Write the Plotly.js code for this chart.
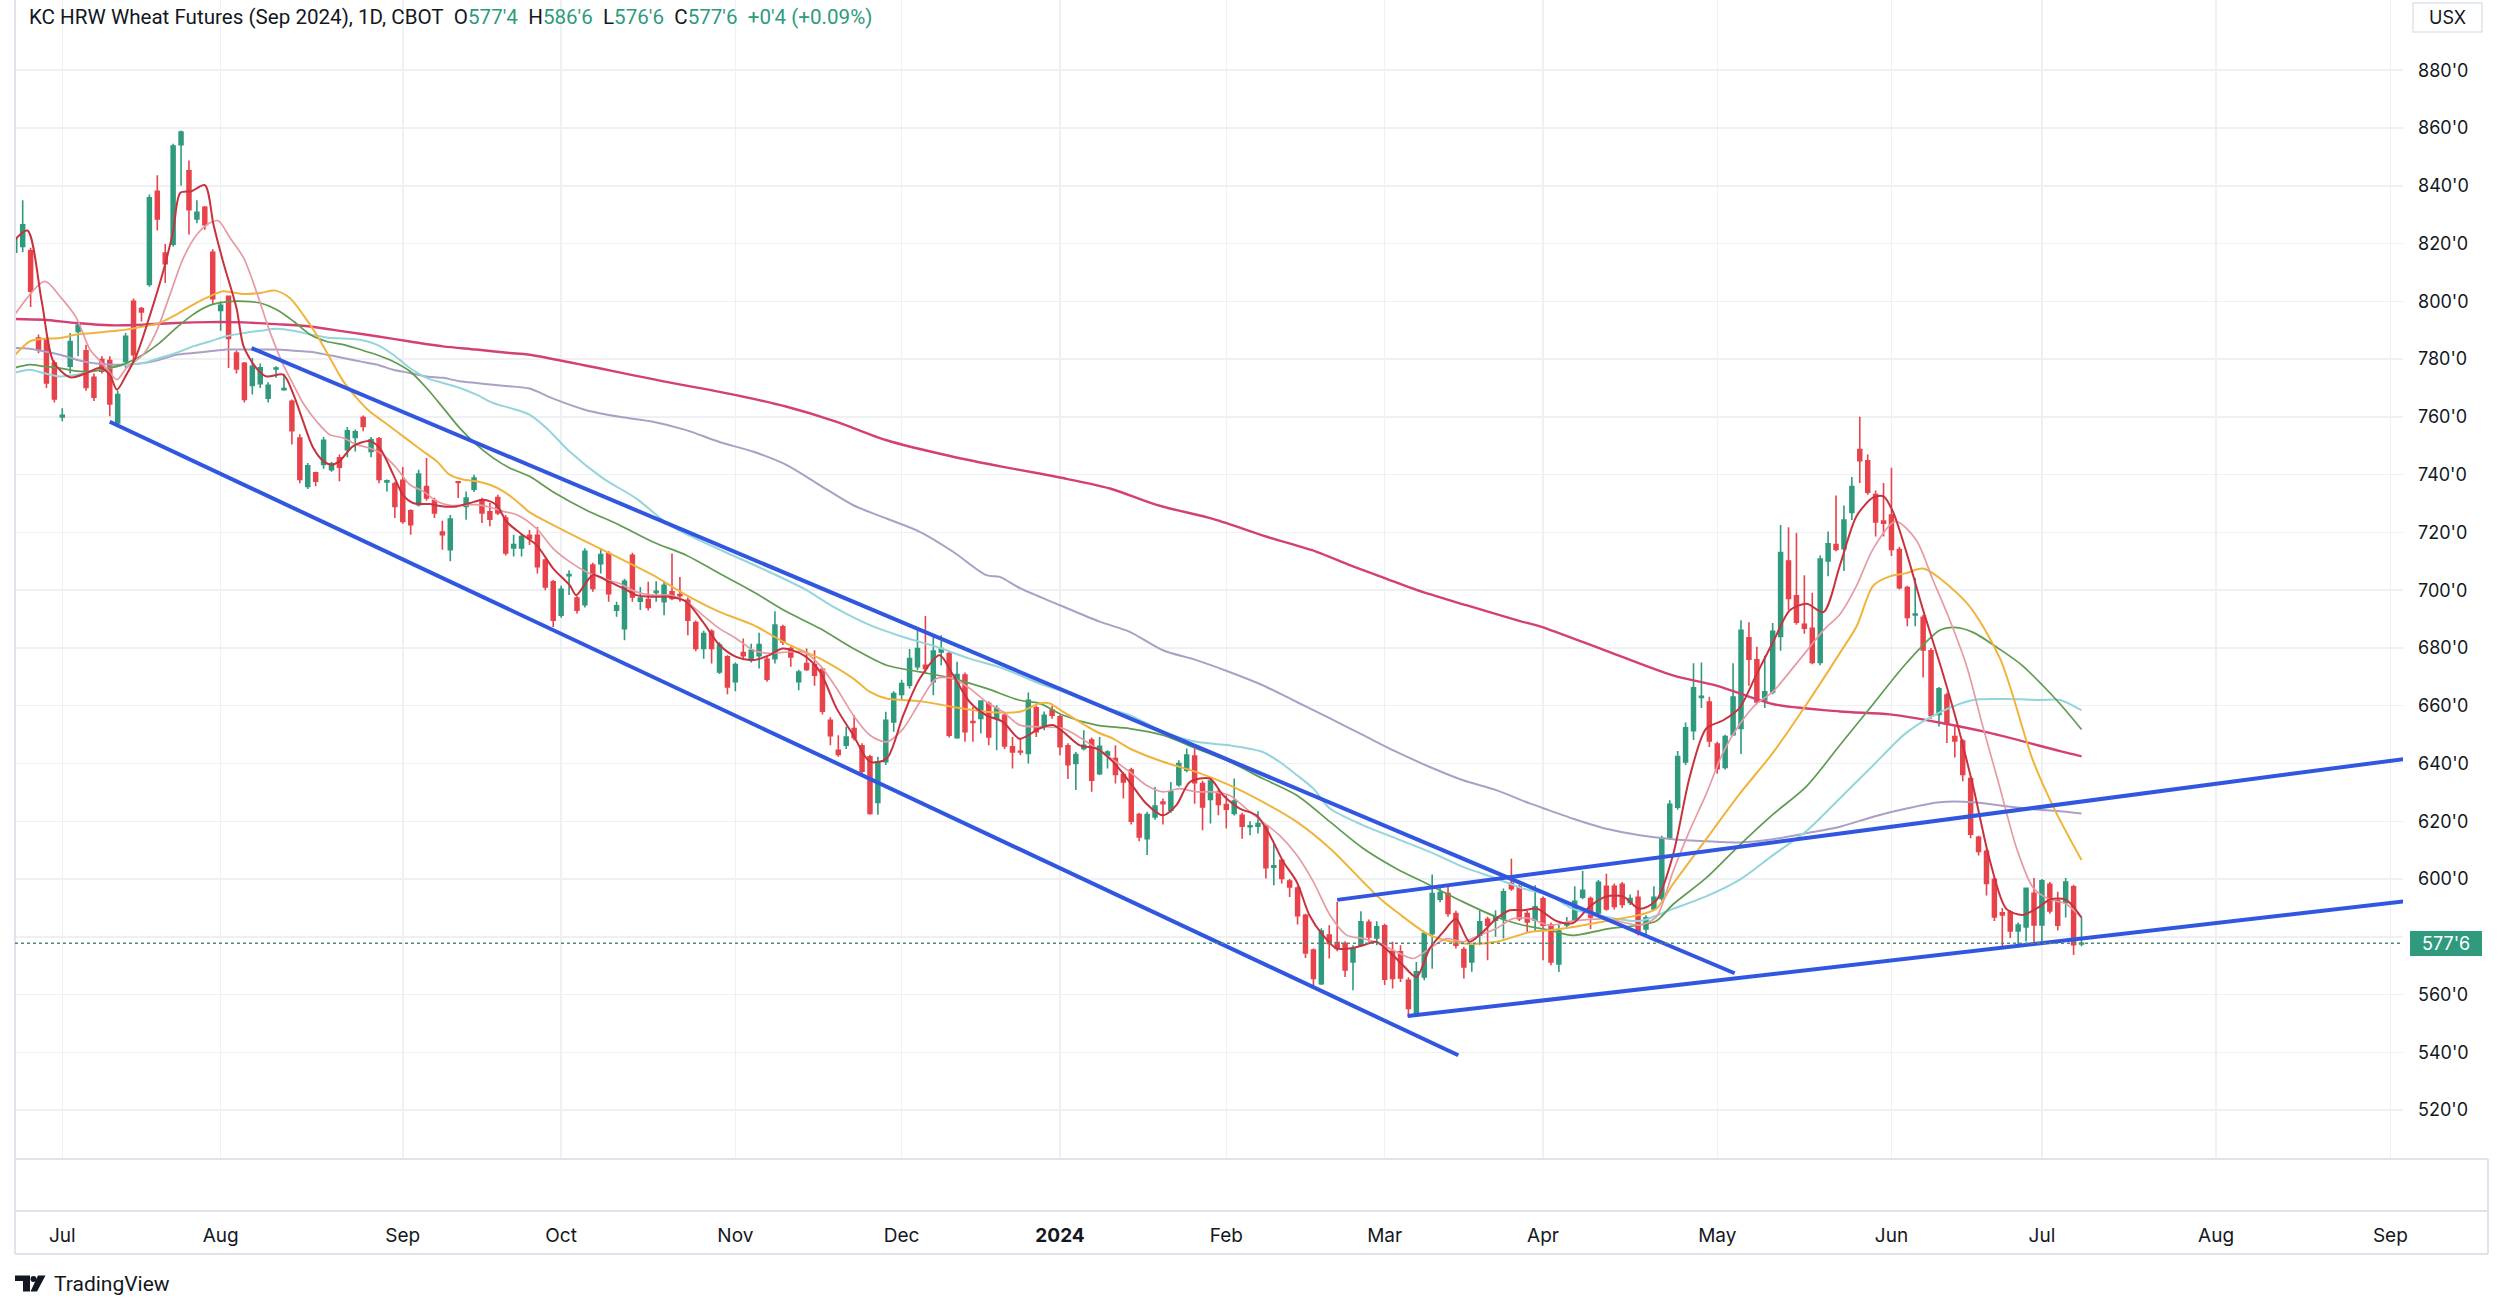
<!DOCTYPE html>
<html><head><meta charset="utf-8">
<script src="https://cdn.plot.ly/plotly-3.0.1.min.js"></script>
<style>html,body{margin:0;padding:0;background:#fff}</style>
</head><body><div id="chart" style="width:2500px;height:1310px"></div>
<script>
// ---------- calendar (trading days, CBOT) ----------
const holidays = ['2023-07-04','2023-09-04','2023-11-23','2023-12-25','2024-01-01','2024-01-15',
  '2024-02-19','2024-03-29','2024-05-27','2024-06-19','2024-07-04','2024-09-02'];
const firstCandleDate = '2023-06-23';
const originDate = '2023-07-03';
const tickMonths = ['2023-07','2023-08','2023-09','2023-10','2023-11','2023-12','2024-01','2024-02',
  '2024-03','2024-04','2024-05','2024-06','2024-07','2024-08','2024-09'];
const monthNames = ['Jan','Feb','Mar','Apr','May','Jun','Jul','Aug','Sep','Oct','Nov','Dec'];

// ---------- OHLC (Jun 23 2023 .. Jul 9 2024) ----------
const open = [817,819,817.5,787.3,786.7,778.6,
 760,777.5,789.6,782.9,773.7,779.8,779.5,757.9,779.2,800,
 797.5,805.8,838.1,816.7,819.8,854.2,845.2,828.5,832.5,817,
 796.8,801.7,782.1,778.5,770.9,771.5,766.5,776.6,769.4,765.4,
 752.7,735.9,740.6,743.5,741.7,745.8,748.6,752.9,759.8,748,
 752.4,737.5,736.8,738,727.5,729.6,735.9,731,720.1,714,
 737.5,729,735,731.3,727.1,732.1,725,714.6,714.6,719,
 719,710.4,702.9,691.3,705,697.3,695,708.7,709.2,712.7,
 693.1,686.7,712.1,696.2,696.8,699.2,696,699.4,698.5,696.5,
 688.8,679.8,685.8,671.7,676.9,668.3,678.4,675.8,677.3,676.1,
 676.3,687.3,679.8,668.3,674.6,674.3,672.6,655,644.6,646.3,
 652.1,646.1,642.3,626.5,640.6,654.4,663.9,667.1,673.5,674,
 668.3,678.6,678.1,648.9,670.6,654.5,655.6,660.8,655.6,656.7,
 645.8,644.2,643.5,659.3,653,658.5,656.2,646.1,640,645.2,
 648.1,636.5,642.9,641.7,636.2,637.7,622.3,614,621.5,626.7,
 623.8,632.7,637.7,642.6,633.1,627.6,630,625.8,622.7,622.1,
 618.1,618.3,618.3,604.1,606.5,599.3,596.9,587.5,575.4,563.8,
 580.6,578,577.7,571.3,577.1,585,579.6,583.8,575,574.8,
 565,552.9,566.1,581.1,593,595,588.1,575.6,571.3,580.6,
 586.1,585.8,586.3,598.5,597.3,588.1,585.8,593.2,584.1,570.6,
 584.1,585.8,593.7,593.3,588.3,597.5,597.5,598.2,591.9,593.7,
 582.7,589.7,593.3,614.5,624.9,640.5,651.4,662.9,661.3,646.7,
 638.6,650,652.1,683.5,675.9,662,664.8,684,710.1,698.1,
 688.2,686.8,675,710.1,715.8,714.4,726.9,748.7,744.8,733.1,
 723.9,726,714.1,700.9,691.4,690.6,679,657,663.7,649.3,
 647.8,634.8,614.5,609.6,599.9,588.3,588.6,582,583.4,595.1,
 584.1,598.2,592.6,591.8,597.3,577.5];
const high = [824,835,818.5,788.5,787.5,779.5,
 763,789,793,785,775,781,781,769,789,801,
 798,837,843.6,819.8,854.5,859.1,848.7,835,833,818,
 800,802,783,779,780.4,778.5,772,777.5,774.8,766,
 754,744,741,753,744.5,747,756.5,755.6,760.5,753,
 753,738.3,737.5,742.6,728,741.7,745.8,732,724,726,
 737.7,734.2,740,732,730.2,733,726,719.2,719.5,720.8,
 721.9,711,703.5,701.5,706.9,698,714.5,709.5,714.4,713.5,
 696,704,713,701.1,702.9,703.1,703,712.7,704.6,697.5,
 689.5,686,686.5,682,677.5,675,683.3,681.5,685.3,677,
 692.7,688,680.5,672.5,679.8,679.2,673,656,649.8,652.7,
 656.7,647,643,642.3,657.9,665,669,679.6,686.1,691.1,
 683.9,684.4,679,675.2,671.5,659.6,661.9,661.5,660.2,657.5,
 649.2,648.6,664.6,660,658,660,657,647,644,651.5,
 649,649.2,644.6,646.3,637,638.5,623,623.3,631.9,627.9,
 633.6,641.1,645.2,645.2,634,634.5,631,629,634.8,623,
 620,623.5,619,612.3,607,600,597.5,588,576,583,
 584,592.1,578.5,577.1,588.9,586,585.4,584.5,578.3,577.1,
 566,571.3,581.7,601.6,597.9,597.6,589,576.5,578,589.2,
 587,589.2,596.7,607,598,589,597.9,594,585,584.1,
 586.9,597.5,602.8,594,599.7,601.8,598.5,599,594.7,596.1,
 587.5,597.5,615,627.3,644.3,654.2,674.7,675,663.1,647.5,
 650,674.7,689.6,688.9,680.4,677.3,688.6,722.6,721.8,719.8,
 705.2,699.1,712,720.3,732.8,729.3,739.2,760,747,734.5,
 737.1,742.4,715,701.5,704.2,691.5,680,666.5,664.5,652.8,
 648.5,635.5,615,610.3,600.5,590,589.3,585,597.1,600.4,
 600,599,595.6,600.4,598,586.75];
const low = [813,817,798,782,770,765,
 758.5,775,781,769,765.5,775,760.2,757,777,779,
 793,805,824.5,806.3,819,840,823.1,827,824.8,799,
 789.8,776.9,775,765,767.7,770,765,773.5,769,750.4,
 737,735,736,742,741,737.7,746,748,755,746,
 737,734.2,725,723,719.2,729,731,725,714,710,
 731.9,724.4,734,723.3,722.1,726,712,711.7,711.7,715.6,
 705.8,700,687.3,690.5,698.3,691.9,694,699.5,705.8,696,
 690.8,682.7,696,693.1,693,696,691.3,696.5,696,684.4,
 678.9,676.3,674.6,671,664,665,676.3,675,672.9,668.3,
 674.6,681,673.5,665.4,672,666.9,657,646.3,642.3,645,
 648,636.5,622.3,622.3,639.5,651,662,666,672.3,671.7,
 663.6,674,649,648.6,647.5,647.5,650.4,646.3,644.6,645,
 638.3,642.9,640,649.2,651.5,655.5,642.9,634.6,630.8,644.5,
 630.2,636,638.3,633.1,627.9,618.9,613.1,608.3,620.5,618.9,
 623,632,637,626.1,616.9,619.2,622.1,617.5,622,614,
 615.2,615.8,600.2,597.9,598.5,593.8,584.3,572.7,562.1,563.3,
 572.5,575,566.1,561.5,576.5,578.3,577.1,563.3,562.1,564.4,
 552.3,552.3,565,569,592,587,576,565.6,567.9,577.1,
 571.9,580,579.4,596,585.5,581.7,581.7,571.9,570.2,567.8,
 583,585,593,582.7,587.5,589,589.5,590,591,580.5,
 580.1,589,592.5,613.5,624,639.5,648.1,659.2,645.7,636.5,
 637.9,649.5,643.3,666.9,660.5,659.2,664,679,693.1,688,
 684.9,674.4,674,704.8,713.5,706.6,724.3,737.1,733,718.6,
 718.6,711.8,700.2,687.5,687.5,669.8,655.5,652.8,647.1,642.1,
 633.9,614.1,608.2,594.3,585.5,576.3,579.6,577.3,578.4,577.3,
 577.3,588,582.2,586.7,573.7,576.75];
const close = [822,826.5,803.5,783.3,771.7,766.2,
 760.5,786.1,791.7,770.2,766.8,775.8,764.5,767.7,787.9,781.5,
 796.3,835.8,828.5,813,853.7,858.6,831.7,830.8,826.5,800.9,
 798.6,787.1,776.6,766,777.5,777,770.9,776.9,769.8,755.2,
 738.3,743.1,737.7,751.9,743.7,742.6,755.2,754.8,756.7,752.1,
 738.3,737.9,729,723.8,722.7,740.2,731.9,726.7,719.2,724.6,
 737.3,731.9,738.8,726.7,724.6,726.7,712.9,715.8,718.6,717.9,
 708.1,701.1,689.6,700.3,705.4,693.1,713.5,700.6,712.3,698.8,
 694.6,703.1,697.7,697.3,694,699.6,701.7,697.1,698.1,689.6,
 679.8,685,679.8,681,666.5,674.3,677.3,679.2,681.2,669.2,
 687.9,682.1,676.9,671.7,672.6,670.6,658.1,649.6,643.1,649.2,
 648.9,637.3,622.7,640.6,655,664.2,667.7,676.3,679.8,672.9,
 678.9,679.8,649.8,670.8,651,654.2,661.6,649.2,659,646.1,
 644,644,661.9,651,656.7,656.7,645.8,639.6,643.1,646.3,
 634.2,646,644,636.2,633.6,620,614.6,622.3,625.3,626.1,
 630.2,640,642.9,633.4,625,633.9,625.8,624.2,627,618.3,
 618.4,619.2,603.9,604.6,600.2,597.3,587.3,574.4,565.6,582,
 577.7,576,568.5,576,585.2,580,583.5,565.3,565.6,565.8,
 555.2,567.9,581.1,595,595.3,588.1,577.1,569.6,577.1,585.2,
 584,586.9,595.6,596.7,586.3,585.2,590.4,584,571.3,582,
 584.8,592.3,596.1,586.9,598.9,589.7,590.5,591.2,593.3,581.3,
 586.6,593.7,614.1,625.9,642.4,652.4,666.2,663.3,647.8,638.2,
 649.3,663,686.1,676.1,661.3,664.8,685.8,713,697.1,688.9,
 686.8,675,710.8,716.1,714.1,724.3,735.9,744.8,733.9,723.6,
 723.2,714.1,700.9,690.6,691.7,679.3,656.6,665.9,653.8,647.8,
 636.2,615.5,609.6,598.5,586.9,587.6,582,584.1,596.8,584.1,
 599.4,589,584,599,577.25,577.75];

// ---------- moving averages (x = trading-day number from Jul 3 2023) ----------
const maRedX = [-6.1,-4.4,-2.6,-1.1,1,3.1,4.8,6,6.9,8.1,9.4,11.1,12.75,14,14.9,16.3,18,19.1,20.3,22,22.9,24.5,25.8,27.9,29.2,30.4,31.7,33,34,35,36.7,38.8,40.1,41.8,43,44.3,46.4,48.1,49.8,51.5,53.2,54.8,56.1,57.8,59.9,62,64.1,64.9,67,69.1,71.3,72.5,74.6,76.7,78.8,80.9,83,85.1,87.3,89.3,91,93.6,95.7,97.8,99.9,102,104.1,106.2,108.3,110.8,112.5,114.6,116.7,118.8,120.9,123.4,125.1,126.4,128.5,130.6,132.7,134.8,136.9,139,140.7,142.4,144.9,146.6,148.7,150.8,152.5,154.2,155.9,157.5,159.2,160.9,162.6,164.3,165.9,167.6,169.3,171,172.7,174.4,176,177.7,179.4,181.1,182.8,184.5,186.2,188.7,190.8,192.9,195,197.1,199.2,201.3,203.4,205.5,207.6,209.7,211.8,213.9,216,218.2,220.3,222.4,224.5,226.6,228.7,230,231.2,232.9,235,237.1,239.2,241.3,243.4,245.5,247.6,249.7,251,253,255];
const maRedY = [821,824.5,800,779,773.7,775.2,777,774.6,769.4,774.6,781.5,795.4,810.4,824.2,837.5,838.1,840.2,826.5,813.8,797.7,784.4,776.9,774,774.6,767.7,758.5,749.2,744.6,743.5,744.6,749.8,751.6,749.2,740,733.1,730.2,729.8,729,729,730.2,731.3,729.6,723.8,719.8,715.6,707.5,701.7,698.3,705.2,702.9,700,698.3,697.7,697.7,696,689,681,676.9,675.8,677.5,679.8,677.5,671.7,659,649.8,640.6,641.7,656.7,669.4,677.5,670.6,661.3,656.7,654.4,648.6,652.1,653.3,651,646.3,645.2,640.6,633.6,626.1,622.1,625.6,633.6,634.8,629,624.4,622.1,615.2,606,599,587.5,580.6,576,576,577.1,578.3,574.8,570.2,566.1,576,581.7,586.3,578.3,581.7,586.3,589.2,589.2,589.8,585.5,584.8,590.5,594,594,589.7,592.6,608.2,635.1,652.1,654.9,659.2,670.5,681.8,693.1,695.3,692.4,708.7,725.7,732.1,732.5,727.1,713,693.1,674.7,654.9,632.2,606.7,589.7,587.6,590.5,592.9,592.9,586.7];
const maPinkX = [-6.1,-2.2,-0.3,1.8,3.5,5.2,6.9,8.1,10.2,11.9,13.6,15.3,17,18.6,19.7,21.2,22.9,24.5,26.2,27.9,29.2,30.4,32.1,33.8,35.5,37.2,38.8,40.5,42.2,43.9,45.6,47.3,48.9,50.6,52.3,54,55.7,57.4,59.9,62,64.1,66.2,68.3,70.4,72.5,74.6,76.7,78.8,80.9,83,85.1,87.3,89.3,91.5,93.6,95.7,97.8,99.9,102,104.1,106.2,108.3,110.4,112.5,114.6,116.7,118.8,120.9,123.4,126.4,130.6,134.8,136.9,139,141.1,143.2,145.3,147.4,149.5,151.6,153.7,155.9,158,160.1,162.2,164.3,166.4,168.5,170.6,172.7,174.8,176.9,179,181.1,183.2,185.4,187.8,190.8,195,199.2,201.3,203.4,205.5,207.6,209.7,211.8,213.9,216,218.2,220.3,222.4,224.5,226.6,228.7,231.5,234.1,236.2,238.3,240.5,242.5,244.6,246.8,248.9,251,253,255];
const maPinkY = [795,806.9,801.7,794.2,783.3,778.1,772.9,776.9,781.5,789.6,802.3,815,823.1,827.1,827.9,821.9,815,803.5,789.6,778.1,771.1,764.8,758.5,753.8,752.7,750.4,749.2,746.9,742.3,736.5,734.2,730.8,729.4,729.4,729.6,728.7,727.3,726.1,721.3,714.4,709.8,706.3,704,702.3,699.4,698.3,698.3,696,691.3,686.7,683.3,679.2,678.1,678.6,678.6,674,666,656.7,649.8,647.5,652.1,661.3,669.4,669.4,666,661.3,657.9,653.3,652.7,652.1,645.2,637.1,632.5,630.2,631.3,630.2,630.2,629,624.4,619.8,615.2,608.3,599,587.5,580.6,579.4,577.7,574.8,572.5,576,579.4,578.3,580.6,582.9,586.3,586.3,584,585.5,586.2,584.1,586.9,602.5,616.7,629.4,643.6,653.5,660.6,664.8,671.9,679,686.1,691.7,701.6,714.4,723.8,717.5,703.8,690.1,673.7,653.2,632.6,610.7,597,592.9,591.5,586.7];
const maYellowX = [-6.1,-4.1,-2.4,-0.3,1.8,3.9,6,8.1,10.2,12.3,14.4,16.5,18.6,20.3,22.9,25,26.9,28.7,30.4,32.1,33.8,35.5,37.2,38.8,40.5,42.2,43.9,45.6,47.3,48.9,50.6,52.3,54,55.7,57.4,59,62,66.2,70.4,74.6,78.8,83,87.3,91.5,95.7,99.9,102,104.1,108.3,112.5,116.7,120.9,123.4,124.7,126.4,130.6,132.7,134.8,139,143.2,147.4,151.6,155.9,160.1,164.3,166.4,168.5,172.7,176.9,181.1,185.4,187.8,190.8,195,199.2,201.3,203.4,207.6,211.8,216,220.3,224.5,226.6,228.7,230.8,232.9,235,240.5,244.7,248.9,251.8,255];
const maYellowY = [781,786.1,787,787.3,788.5,789,789.6,790.2,791.3,792.5,795.4,798.8,801.7,803.5,802.5,802.9,803.7,801.2,795.4,788.5,780.4,772.3,766.5,761.9,758.5,755,751.5,748,744.6,740,738.3,737.7,736.5,734.2,730.8,727,722.5,716.7,711,705.2,698.3,692.5,687.9,681.5,676.3,669.4,664.8,662.5,661.6,659.6,657.9,657.9,660.8,660.8,657.9,651,648.6,645.2,640.6,637.1,632.5,626.7,619.8,610.6,599,593.3,588.7,580.6,577.7,578.3,581.7,582.3,583.4,585.5,587.6,589.7,598.2,613.8,629.4,643.6,660.6,678.3,687.5,701.6,704.8,705.9,707.5,695.6,676.4,640.8,623,606.6];
const maGreenX = [-6.1,-4.1,-2.4,-0.3,1.8,3.9,6,8.1,10.2,12.3,14.4,16.5,18.6,20.7,22.9,25,27.1,29.2,31.3,33.4,35.5,37.6,39.7,41.8,43.9,46,48.1,50.2,52.3,54.4,56.5,59,62,66.2,70.4,74.6,78.8,83,87.3,91.5,95.7,99.9,104.1,108.3,112.5,116.7,120.9,123.4,126.4,130.6,134.8,139,143.2,147.4,151.6,155.9,160.1,164.3,168.5,172.7,176.9,181.1,184.5,187.8,190.8,195,199.2,201.3,203.4,207.6,211.8,216,220.3,224.5,228.7,232.9,237.1,239,241.3,244.7,247.5,250.1,252.3,255];
const maGreenY = [776.9,778.1,777.5,776.9,775.8,775.8,776.9,778.6,781.5,785.6,790.8,795.4,798.6,799.8,800,799.4,797.1,793.1,788.5,786.1,785,783.3,781.5,779.2,775.8,770,763.1,756.1,750.4,745.8,742.3,739.4,734,727.7,722.5,716.7,712.1,705.8,699.4,692.5,686.7,679.8,674,671.7,669.4,666,661.9,660.8,656.7,653.3,652.1,649.8,645.2,640.6,634.8,629,619.8,610.6,603.6,597.9,592.1,586.9,584,582.3,580.5,582.7,584.1,585.5,591.2,600.4,611.7,622.3,632.2,646.4,660.6,674.8,686.1,687.1,685.4,679.5,674,667,660.6,651.8];
const maCyanX = [-6.1,-4.1,-2.4,-0.3,1.8,3.9,6,8.1,10.2,12.3,14.4,16.5,18.6,20.7,22.9,25,27.1,29.2,31.3,33.4,35.5,37.6,39.7,41.8,43.9,46,48.1,50.2,52.3,54.4,56.5,59,61.2,64.1,68.3,72.5,76.7,80.9,85.1,89.3,93.6,97.8,102,106.2,110.4,114.6,118.8,123.4,126.4,130.6,134.8,139,143.2,147.4,151.6,153.7,155.9,158,160.1,164.3,168.5,172.7,176.9,181.1,184.5,187.8,190.8,195,199.2,203.4,207.6,211.8,216,220.3,224.5,228.7,232.9,237.1,241.3,245.5,249.7,252.3,255];
const maCyanY = [775.2,776.3,775.2,774,774.6,775.8,776.9,778.1,778.6,780.4,782.1,784.4,786.1,787.9,789,789.8,790.5,789.8,788.5,787.5,787.1,786.7,785,781.5,776.9,773.5,771.7,770,767.7,764.8,763.1,760.8,756,747.9,738.7,731.7,722.5,716.7,711.5,706.3,700.6,693.6,687.9,683.8,680.4,676.3,672.9,667.7,664.8,660.2,656.7,651,647.5,646.3,644,640.6,636,631.3,624.4,618.6,614,609.4,604.2,600.2,596.7,594.4,589.7,586.9,585.5,589.7,594,599.7,608.2,616.7,628,639.4,650.7,657.7,662,662.3,662,662,658.4];
const maLavenderX = [-6.1,-4.1,-2.4,-0.3,1.8,3.9,6,8.1,10.2,12.3,14.4,16.5,18.6,20.7,22.9,25,27.1,29.2,31.3,33.4,35.5,37.6,39.7,41.8,43.9,46,48.1,50.2,52.3,54.4,56.5,59,62,66.2,70.4,74.6,78.8,83,87.3,91.5,95.7,99.9,104.1,108.3,112.5,116.7,118.4,121,126,131,134.8,139,143.2,147.4,151.6,155.9,160.1,164.3,168.5,172.7,176.9,181.1,185.4,187.8,190.8,195,199.2,203.4,207.6,211.8,216,220.3,224.5,228.7,232.9,237.1,241.3,245.5,249.7,252.3,255];
const maLavenderY = [783.8,783.6,782.7,781.5,779.8,778.6,778.1,778.1,778.6,779.8,781.5,782.1,782.7,783.3,783.3,783.3,783.3,782.9,782.5,781.5,780.4,779.2,778.1,776.3,775.2,774,773.5,772.3,771.7,771.1,770.6,769.8,766.3,762.3,760,758.3,755.4,751.3,747.9,743.3,736.3,729.4,724.8,720.2,713.3,705.2,704.6,700.6,694.8,689.1,685.6,679.2,675.8,671.7,667.1,661.3,655.6,649.8,644,638.8,634.2,630.8,626.1,623.8,620.9,617.4,615.2,613.8,613.1,612.7,613.8,615.9,618.1,621.6,624.4,626.6,626.6,625.2,624,623.5,622.7];
const maMagentaX = [-6.1,-2.4,1.8,6,10.2,14.4,18.6,22.9,27.1,31.3,35.5,39.7,43.9,48.1,52.3,56.5,59,76.3,85.1,91.5,97.8,104.1,112.5,118.8,123.4,126,132.3,138.2,145.4,152.1,158.4,162.6,166.9,171.1,177.3,184.1,186.6,195,203.4,209,216,224.5,230.8,237,243.4,252.3,255];
const maMagentaY = [793.9,793.6,792.5,791.7,791.9,792.5,792.8,792.7,792.1,791.3,789.6,787.9,786.1,784.4,783.3,782.1,781.5,772.1,767.5,763.5,758.3,751.9,746.2,742.7,740.4,739,735.2,729.5,724.6,718.5,713.3,708.7,704.3,700,694.8,689.3,687.5,679,670.5,666.9,660.6,658,657,654.2,650.6,644.3,642.5];

// ---------- drawn trend lines (trading-day number, price) ----------
const trendX = [[6,176.3],[23.9,211.2],[161,300],[169.9,300]];
const trendY = [[758.3,539],[783.8,567.4],[592.8,643.1],[552.6,593.6]];

const priceTicks = [520,540,560,580,600,620,640,660,680,700,720,740,760,780,800,820,840,860,880];
const lastPrice = 577.75;

// ---------- build ----------
function tradingCalendar(from, to){
  const out=[]; const d=new Date(from+'T00:00:00Z'); const end=new Date(to+'T00:00:00Z');
  while(d<=end){ const wd=d.getUTCDay(); const s=d.toISOString().slice(0,10);
    if(wd!==0 && wd!==6 && !holidays.includes(s)) out.push(s);
    d.setUTCDate(d.getUTCDate()+1); }
  return out;
}
const calendar = tradingCalendar('2023-06-01','2024-09-30');
const origin = calendar.indexOf(originDate);
const tIndex = s => calendar.indexOf(s) - origin;
const first = calendar.indexOf(firstCandleDate);
const candleDates = open.map((_,k)=>calendar[first+k]);
const candleX = candleDates.map(tIndex);

const tickvals = tickMonths.map(m => tIndex(calendar.find(d => d.startsWith(m))));
const ticktext = tickMonths.map(m => m.endsWith('-01') ? '<b>'+m.slice(0,4)+'</b>' : monthNames[+m.slice(5)-1]);

const UP='#2f9a7d', DOWN='#e8424b', GREENTXT='#2e9a7c', INK='#131722', BORDER='#e0e3eb', GRID='#eef0f4';

const traces = [{
  type:'candlestick', x:candleX, open, high, low, close,
  increasing:{line:{color:UP,width:1.6},fillcolor:UP},
  decreasing:{line:{color:DOWN,width:1.6},fillcolor:DOWN},
  whiskerwidth:0, hoverinfo:'skip'
}];
const ma = [
  [maMagentaX,maMagentaY,'#d43f74',2.4],
  [maLavenderX,maLavenderY,'#ab9fc6',2],
  [maCyanX,maCyanY,'#94d5db',2],
  [maGreenX,maGreenY,'#5f9c50',1.7],
  [maYellowX,maYellowY,'#f0b43c',2],
  [maPinkX,maPinkY,'#e79aa3',1.7],
  [maRedX,maRedY,'#c8323d',2]
];
ma.forEach(([x,y,c,w])=>traces.push({type:'scatter',mode:'lines',x,y,line:{color:c,width:w,shape:'spline',smoothing:0.8},hoverinfo:'skip'}));
trendX.forEach((x,k)=>traces.push({type:'scatter',mode:'lines',x,y:trendY[k],line:{color:'#3157e0',width:4},hoverinfo:'skip'}));

// pixel -> paper helpers (plot area: x 15..2403, y 0..1159)
const L=15,R=2403,B=1159;
const px = x => (x-L)/(R-L);
const py = y => (B-y)/B;

const shapes = [
  {type:'line',xref:'paper',yref:'paper',x0:px(15),x1:px(2488),y0:py(1159),y1:py(1159),line:{color:BORDER,width:2}},
  {type:'line',xref:'paper',yref:'paper',x0:px(15),x1:px(2488),y0:py(1211),y1:py(1211),line:{color:BORDER,width:2}},
  {type:'line',xref:'paper',yref:'paper',x0:px(15),x1:px(2488),y0:py(1254),y1:py(1254),line:{color:BORDER,width:2}},
  {type:'line',xref:'paper',yref:'paper',x0:px(15),x1:px(15),y0:py(0),y1:py(1254),line:{color:BORDER,width:2}},
  {type:'line',xref:'paper',yref:'paper',x0:px(2488),x1:px(2488),y0:py(1159),y1:py(1254),line:{color:BORDER,width:2}},
  {type:'line',xref:'paper',yref:'y',x0:0,x1:1,y0:lastPrice,y1:lastPrice,line:{color:'#4f8a79',width:1.5,dash:'dot'}},
  {type:'rect',xref:'paper',yref:'paper',x0:px(2410),x1:px(2482),y0:py(956),y1:py(931),fillcolor:UP,line:{width:0}},
  {type:'rect',xref:'paper',yref:'paper',x0:px(2413),x1:px(2482),y0:py(32),y1:py(3),fillcolor:'#ffffff',line:{color:BORDER,width:1.5}},
  // TradingView logo
  {type:'path',xref:'paper',yref:'paper',fillcolor:INK,line:{width:0},
   path:`M${px(15)},${py(1275.5)} L${px(30)},${py(1275.5)} L${px(30)},${py(1291.5)} L${px(23)},${py(1291.5)} L${px(23)},${py(1281)} L${px(15)},${py(1281)} Z`},
  {type:'circle',xref:'paper',yref:'paper',fillcolor:INK,line:{width:0},x0:px(30.5),x1:px(36.5),y0:py(1276),y1:py(1282)},
  {type:'path',xref:'paper',yref:'paper',fillcolor:INK,line:{width:0},
   path:`M${px(38)},${py(1275.5)} L${px(45.5)},${py(1275.5)} L${px(37)},${py(1291.5)} L${px(30.5)},${py(1291.5)} Z`}
];

const g = s => `<span style="color:${GREENTXT}">${s}</span>`;
const sp = '\u00a0\u00a0';
const annotations = [
  {xref:'paper',yref:'paper',x:px(27),y:py(17),xanchor:'left',yanchor:'middle',showarrow:false,
   font:{size:20.6,color:INK,family:'Roboto, sans-serif'},
   text:`KC HRW Wheat Futures (Sep 2024), 1D, CBOT${sp}O${g("577'4")}${sp}H${g("586'6")}${sp}L${g("576'6")}${sp}C${g("577'6")}${sp}${g("+0'4 (+0.09%)")}`},
  {xref:'paper',yref:'paper',x:px(2446),y:py(943.5),xanchor:'center',yanchor:'middle',showarrow:false,
   font:{size:18,color:'#ffffff',family:'Inter, sans-serif'},text:"577'6"},
  {xref:'paper',yref:'paper',x:px(2447.5),y:py(17.5),xanchor:'center',yanchor:'middle',showarrow:false,
   font:{size:18,color:INK,family:'Inter, sans-serif'},text:'USX'},
  {xref:'paper',yref:'paper',x:px(52),y:py(1283.5),xanchor:'left',yanchor:'middle',showarrow:false,
   font:{size:21,color:INK,family:'Roboto, sans-serif'},text:'TradingView'}
];

const layout = {
  width:2500,height:1310,paper_bgcolor:'#ffffff',plot_bgcolor:'#ffffff',
  margin:{l:15,r:97,t:0,b:151,pad:0},showlegend:false,hovermode:false,
  font:{family:'Inter, sans-serif',color:INK},
  xaxis:{range:[-5.97,295.6],tickmode:'array',tickvals,ticktext,showgrid:true,gridcolor:GRID,gridwidth:1.5,
    zeroline:false,showline:false,ticks:'',tickfont:{size:19,color:INK},ticklabelstandoff:63,
    rangeslider:{visible:false},fixedrange:true},
  yaxis:{range:[503.1,904.3],side:'right',tickmode:'array',tickvals:priceTicks,
    ticktext:priceTicks.map(p=>p===580?'':p+"'0"),showgrid:true,gridcolor:GRID,gridwidth:1.5,
    zeroline:false,showline:false,ticks:'',tickfont:{size:18,color:INK},ticklabelstandoff:14,fixedrange:true},
  shapes,annotations
};
Plotly.newPlot('chart',traces,layout,{staticPlot:true,displayModeBar:false});
</script></body></html>
